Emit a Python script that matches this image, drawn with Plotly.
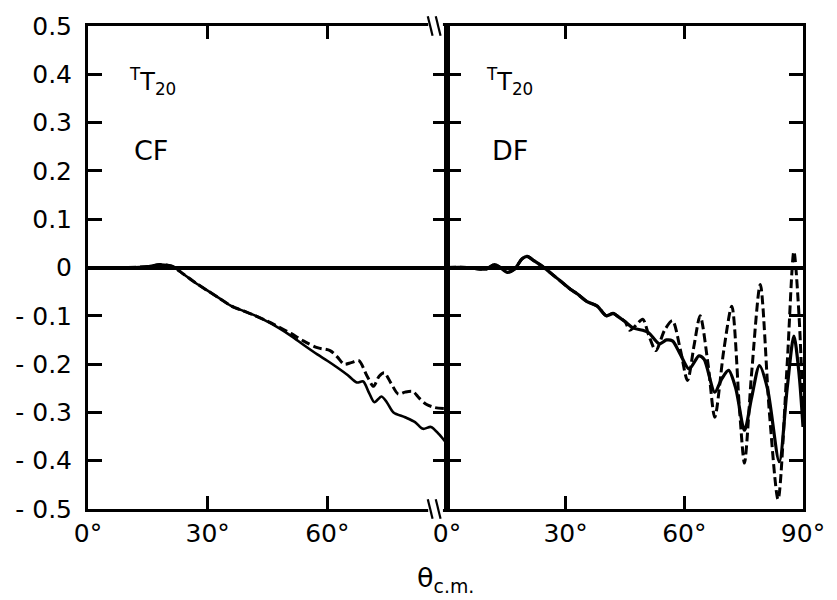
import plotly.graph_objects as go

# ---- data ----
cf_theta_solid = [0, 10, 15, 18, 21, 24, 27, 30, 33, 36, 39, 42, 45, 48, 51, 54, 57.5, 60, 62.5, 65, 67.4, 69,
                  70.5, 71.8, 73.6, 75, 76.6, 79.5, 82, 84, 86, 88, 90]
cf_solid = [0, 0, 0.002, 0.006, 0.003, -0.014, -0.032, -0.048, -0.064, -0.08, -0.09, -0.1, -0.112, -0.126,
            -0.142, -0.16, -0.18, -0.193, -0.207, -0.222, -0.238, -0.236, -0.26, -0.279, -0.267, -0.28, -0.3,
            -0.31, -0.32, -0.334, -0.33, -0.345, -0.365]

cf_theta_dash = [0, 10, 15, 18, 21, 24, 27, 30, 33, 36, 39, 42, 45, 48, 51, 54, 57.5, 60.7, 62.5, 64.2, 66,
                 67.9, 70, 71.6, 73, 74.3, 76, 77.8, 79.5, 81.5, 83, 84.8, 87, 90]
cf_dash = [0, 0, 0.002, 0.006, 0.003, -0.014, -0.032, -0.048, -0.064, -0.08, -0.09, -0.1, -0.111, -0.124,
           -0.137, -0.152, -0.166, -0.172, -0.185, -0.2, -0.197, -0.193, -0.225, -0.246, -0.225, -0.218, -0.24,
           -0.262, -0.258, -0.257, -0.27, -0.283, -0.29, -0.292]

df_theta_solid = [0, 5, 8, 10, 12, 13.5, 15.2, 17, 19, 20.3, 22, 24.5, 26, 27.8, 31.2, 33, 35.3, 38, 40.3, 42,
                  43, 45, 47, 49.5, 51, 53.7, 55.5, 57, 59, 61.2, 63.7, 65, 67.7, 69.5, 71.2, 73, 75.2, 77, 79,
                  81, 84, 86, 87.7, 89, 90]
df_solid = [0, 0, -0.003, -0.003, 0.006, 0, -0.01, -0.004, 0.018, 0.023, 0.014, 0, -0.01, -0.022, -0.045,
            -0.055, -0.07, -0.08, -0.1, -0.095, -0.1, -0.112, -0.125, -0.13, -0.135, -0.158, -0.15, -0.152,
            -0.18, -0.21, -0.183, -0.19, -0.258, -0.23, -0.213, -0.25, -0.337, -0.27, -0.203, -0.25, -0.402,
            -0.25, -0.142, -0.22, -0.33]

df_theta_dash = [0, 5, 8, 10, 12, 13.5, 15.2, 17, 19, 20.3, 22, 24.5, 26, 27.8, 31.2, 33, 35.3, 38, 40.3, 42,
                 43, 45, 46.2, 47.5, 49.5, 51, 52.8, 55, 57, 59, 60.8, 62.5, 64, 66, 67.7, 70, 72, 74, 75.2,
                 77, 79.2, 81.5, 83.7, 86, 87.7, 89, 90]
df_dash = [0, 0, -0.003, -0.003, 0.006, 0, -0.01, -0.004, 0.018, 0.023, 0.014, 0, -0.01, -0.022, -0.045,
           -0.055, -0.07, -0.08, -0.1, -0.095, -0.1, -0.112, -0.13, -0.122, -0.107, -0.14, -0.172, -0.13,
           -0.11, -0.17, -0.234, -0.16, -0.1, -0.2, -0.31, -0.17, -0.08, -0.3, -0.405, -0.22, -0.035, -0.3,
           -0.48, -0.2, 0.033, -0.1, -0.3]

y_tickvals = [0.5, 0.4, 0.3, 0.2, 0.1, 0, -0.1, -0.2, -0.3, -0.4, -0.5]
y_ticktext = ["0.5", "0.4", "0.3", "0.2", "0.1", "0", "- 0.1", "- 0.2", "- 0.3", "- 0.4", "- 0.5"]
x_left_vals = [0, 30, 60]
x_left_text = ["0°", "30°", "60°"]
x_right_vals = [0, 30, 60, 90]
x_right_text = ["0°", "30°", "60°", "90°"]

FONT = "DejaVu Sans"
LW = 2.6
DASH = "9px,4px"

fig = go.Figure()
fig.add_trace(go.Scatter(x=cf_theta_dash, y=cf_dash, mode="lines", xaxis="x", yaxis="y",
                         line=dict(color="black", width=LW + 0.4, dash=DASH, shape="spline", smoothing=0.8)))
fig.add_trace(go.Scatter(x=cf_theta_solid, y=cf_solid, mode="lines", xaxis="x", yaxis="y",
                         line=dict(color="black", width=LW, shape="spline", smoothing=0.8)))
fig.add_trace(go.Scatter(x=df_theta_dash, y=df_dash, mode="lines", xaxis="x2", yaxis="y2",
                         line=dict(color="black", width=LW + 0.4, dash=DASH, shape="spline", smoothing=0.8)))
fig.add_trace(go.Scatter(x=df_theta_solid, y=df_solid, mode="lines", xaxis="x2", yaxis="y2",
                         line=dict(color="black", width=LW + 0.6, shape="spline", smoothing=0.8)))

split = 0.502
TICKFONT = dict(family=FONT, size=25, color="black")
common_x = dict(range=[0, 90], showline=True, linewidth=3, linecolor="black", mirror="ticks",
                ticks="inside", ticklen=13, tickwidth=2.5, tickcolor="black", showgrid=False,
                zeroline=False, tickfont=TICKFONT)
common_y = dict(range=[-0.5, 0.5], showline=True, linewidth=3, linecolor="black", mirror="ticks",
                ticks="inside", ticklen=14, tickwidth=2.5, tickcolor="black", showgrid=False,
                zeroline=True, zerolinewidth=3.5, zerolinecolor="black",
                tickvals=y_tickvals, tickfont=TICKFONT)

fig.update_layout(
    width=837, height=600,
    margin=dict(l=88, r=24, t=22, b=91),
    paper_bgcolor="white", plot_bgcolor="white",
    showlegend=False,
    xaxis=dict(common_x, domain=[0, split], anchor="y", tickvals=x_left_vals, ticktext=x_left_text),
    xaxis2=dict(common_x, domain=[split, 1], anchor="y2", tickvals=x_right_vals, ticktext=x_right_text),
    yaxis=dict(common_y, anchor="x", ticktext=y_ticktext, ticklabelstandoff=8),
    yaxis2=dict(common_y, anchor="x2", showticklabels=False),
    font=dict(family=FONT, color="black"),
)

ann_font = dict(family=FONT, size=24, color="black")
big_font = dict(family=FONT, size=27, color="black")
fig.add_annotation(xref="x", yref="y", x=9.8, y=0.385, text="<sup>T</sup>T<sub>20</sub>",
                   showarrow=False, xanchor="left", yanchor="middle", font=ann_font)
fig.add_annotation(xref="x", yref="y", x=11.0, y=0.242, text="CF",
                   showarrow=False, xanchor="left", yanchor="middle", font=big_font)
fig.add_annotation(xref="x2", yref="y2", x=9.3, y=0.385, text="<sup>T</sup>T<sub>20</sub>",
                   showarrow=False, xanchor="left", yanchor="middle", font=ann_font)
fig.add_annotation(xref="x2", yref="y2", x=11.0, y=0.242, text="DF",
                   showarrow=False, xanchor="left", yanchor="middle", font=big_font)
fig.add_annotation(xref="paper", yref="paper", x=0.5, y=-0.105, text="θ<sub>c.m.</sub>",
                   showarrow=False, xanchor="center", yanchor="top",
                   font=dict(family=FONT, size=27, color="black"))

# axis-break marks on the left panel (top and bottom)
for yb in (0, 1):
    fig.add_shape(type="line", xref="x", yref="paper", x0=85.3, x1=89.0, y0=yb, y1=yb,
                  line=dict(color="white", width=6), layer="above")
    for xb in (85.8, 87.8):
        fig.add_shape(type="line", xref="x", yref="paper", x0=xb - 0.6, x1=xb + 0.6,
                      y0=yb + 0.02, y1=yb - 0.02, line=dict(color="black", width=2.2), layer="above")

fig.write_html("out.html")
